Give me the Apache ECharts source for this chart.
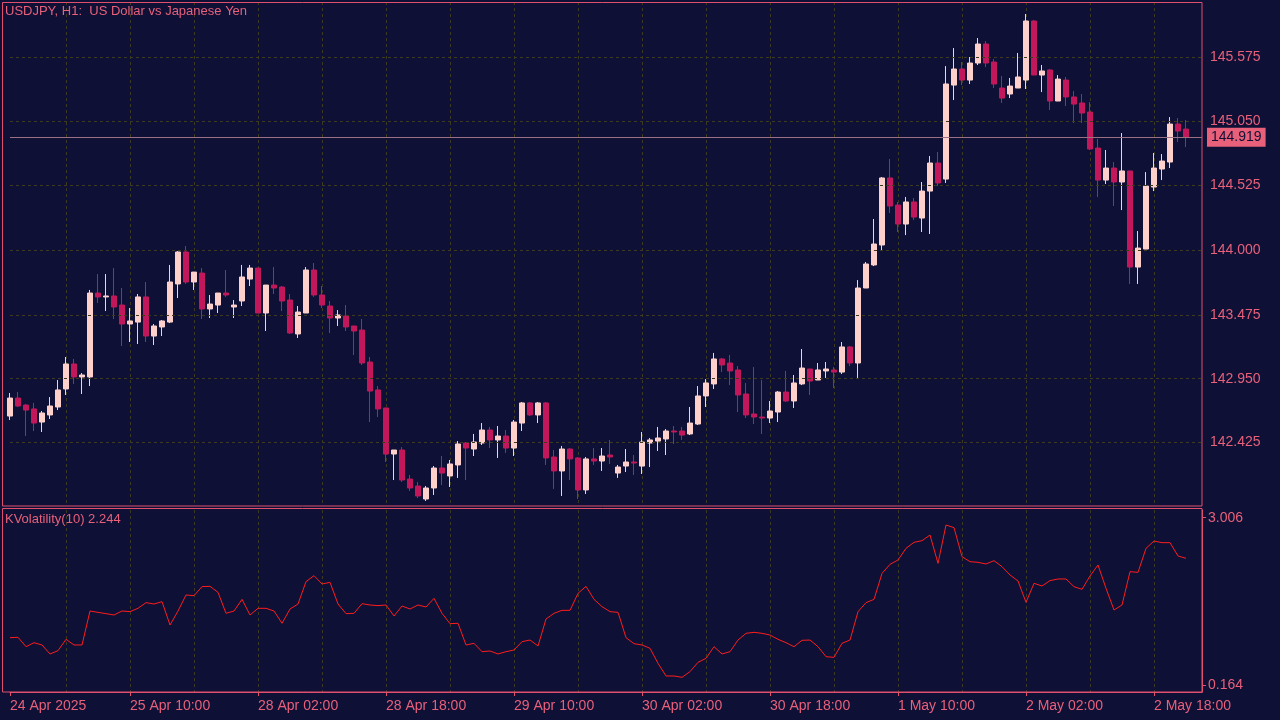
<!DOCTYPE html>
<html><head><meta charset="utf-8">
<script src="https://cdn.jsdelivr.net/npm/echarts@6/dist/echarts.min.js"></script>
<style>html,body{margin:0;padding:0;background:#0e1036;}#c{width:1280px;height:720px;}</style>
</head><body><div id="c"></div>
<script>
const tickLabels = ["24 Apr 2025","25 Apr 10:00","28 Apr 02:00","28 Apr 18:00","29 Apr 10:00","30 Apr 02:00","30 Apr 18:00","1 May 10:00","2 May 02:00","2 May 18:00"];
const priceLevels = [142.425,142.950,143.475,144.000,144.525,145.050,145.575];
const lastPrice = 144.919;
const volTicks = [0.164, 3.006];
const opens = [142.645,142.792,142.735,142.703,142.596,142.654,142.719,142.866,143.070,142.964,
142.964,143.649,143.617,143.625,143.551,143.396,143.412,143.617,143.298,143.372,
143.412,143.723,143.984,143.739,143.812,143.519,143.551,143.649,143.535,143.584,
143.763,143.853,143.486,143.714,143.698,143.592,143.315,143.486,143.837,143.633,
143.543,143.445,143.461,143.380,143.347,143.086,142.858,142.711,142.335,142.368,
142.131,142.074,141.968,142.058,142.221,142.156,142.246,142.425,142.376,142.425,
142.531,142.450,142.482,142.384,142.588,142.752,142.654,142.752,142.311,142.197,
142.376,142.303,142.042,142.295,142.278,142.327,142.180,142.237,142.270,142.237,
142.425,142.441,142.458,142.523,142.523,142.499,142.580,142.809,142.907,143.111,
143.078,143.021,142.825,142.662,142.637,142.629,142.678,142.841,142.768,142.907,
143.029,142.939,143.013,143.021,143.004,143.209,143.078,143.690,143.878,144.041,
144.588,144.367,144.212,144.392,144.261,144.481,144.710,144.579,145.346,145.477,
145.387,145.526,145.681,145.534,145.322,145.273,145.322,145.387,145.869,145.428,
145.469,145.216,145.387,145.249,145.200,145.126,144.832,144.571,144.669,144.555,
144.645,143.861,144.008,144.514,144.661,144.718,145.028,144.987];
const closes = [142.792,142.727,142.694,142.588,142.670,142.727,142.858,143.070,142.964,142.980,
143.649,143.617,143.625,143.535,143.396,143.421,143.617,143.298,143.380,143.421,
143.739,143.984,143.739,143.820,143.519,143.559,143.649,143.633,143.551,143.780,
143.853,143.486,143.714,143.690,143.584,143.323,143.494,143.837,143.633,143.551,
143.445,143.470,143.372,143.339,143.078,142.849,142.703,142.335,142.368,142.123,
142.058,141.993,142.058,142.221,142.180,142.254,142.417,142.384,142.433,142.531,
142.450,142.482,142.384,142.596,142.752,142.654,142.752,142.303,142.197,142.376,
142.295,142.042,142.295,142.278,142.319,142.311,142.229,142.270,142.262,142.433,
142.450,142.466,142.523,142.515,142.490,142.588,142.809,142.915,143.111,143.062,
143.013,142.817,142.654,142.637,142.629,142.686,142.841,142.768,142.915,143.037,
142.931,143.021,143.029,143.004,143.209,143.078,143.690,143.886,144.049,144.588,
144.359,144.212,144.392,144.269,144.481,144.710,144.547,145.355,145.477,145.387,
145.526,145.681,145.526,145.355,145.240,145.338,145.412,145.869,145.428,145.461,
145.216,145.395,145.249,145.191,145.118,144.824,144.571,144.669,144.555,144.645,
143.861,144.016,144.522,144.669,144.726,145.028,144.971,144.919];
const lows = [142.613,142.719,142.482,142.523,142.515,142.621,142.694,142.817,142.907,142.825,
142.890,143.568,143.502,143.437,143.217,143.249,143.233,143.249,143.225,143.298,
143.404,143.608,143.723,143.674,143.437,143.445,143.486,143.617,143.445,143.543,
143.706,143.486,143.339,143.641,143.502,143.315,143.282,143.486,143.617,143.527,
143.323,143.380,143.339,143.143,143.062,142.596,142.637,142.270,142.123,142.107,
142.034,141.976,141.952,142.001,142.082,142.066,142.140,142.123,142.319,142.409,
142.384,142.303,142.344,142.319,142.523,142.645,142.588,142.246,142.050,141.993,
142.123,141.968,142.009,142.246,142.197,142.254,142.140,142.188,142.164,142.172,
142.229,142.360,142.327,142.417,142.450,142.490,142.572,142.719,142.866,143.004,
142.898,142.678,142.629,142.580,142.499,142.588,142.596,142.760,142.711,142.898,
142.817,142.939,142.956,142.874,142.988,143.053,142.956,143.690,143.869,144.000,
144.302,144.147,144.122,144.245,144.147,144.131,144.522,144.547,145.224,145.346,
145.355,145.510,145.493,145.322,145.200,145.240,145.322,145.314,145.428,145.289,
145.142,145.216,145.175,145.036,145.036,144.816,144.433,144.539,144.359,144.326,
143.723,143.723,144.008,144.481,144.571,144.669,144.881,144.840];
const highs = [142.833,142.841,142.743,142.752,142.686,142.800,142.939,143.127,143.111,142.996,
143.674,143.804,143.804,143.853,143.690,143.527,143.641,143.739,143.396,143.429,
143.878,143.992,144.033,143.820,143.853,143.633,143.649,143.837,143.592,143.878,
143.878,143.853,143.714,143.861,143.706,143.641,143.543,143.861,143.894,143.706,
143.584,143.510,143.551,143.380,143.437,143.127,142.890,142.711,142.368,142.392,
142.164,142.107,142.074,142.237,142.319,142.286,142.441,142.433,142.499,142.588,
142.556,142.564,142.531,142.613,142.760,142.760,142.760,142.760,142.368,142.401,
142.384,142.311,142.311,142.384,142.384,142.450,142.246,142.376,142.327,142.515,
142.466,142.556,142.539,142.564,142.556,142.719,142.890,142.947,143.160,143.119,
143.143,143.053,142.915,143.045,142.939,142.768,142.849,143.013,142.980,143.192,
143.029,143.078,143.086,143.045,143.249,143.217,143.755,143.902,144.253,144.596,
144.743,144.392,144.433,144.424,144.555,144.767,144.800,145.501,145.648,145.534,
145.575,145.730,145.705,145.559,145.420,145.404,145.608,145.926,145.877,145.510,
145.477,145.428,145.412,145.297,145.273,145.208,144.906,144.816,144.718,144.955,
144.645,144.155,144.636,144.792,144.783,145.085,145.077,145.061];
const volatility = [0.968,0.974,0.815,0.883,0.844,0.691,0.747,0.940,0.844,0.844,
1.421,1.398,1.376,1.353,1.421,1.410,1.467,1.563,1.540,1.580,
1.183,1.421,1.693,1.682,1.835,1.840,1.738,1.382,1.421,1.619,
1.353,1.467,1.467,1.421,1.212,1.455,1.540,1.920,2.022,1.880,
1.908,1.540,1.376,1.382,1.546,1.523,1.512,1.523,1.336,1.506,
1.455,1.523,1.489,1.636,1.382,1.206,1.212,0.844,0.872,0.730,
0.742,0.691,0.730,0.759,0.900,0.928,0.827,1.285,1.382,1.432,
1.432,1.721,1.840,1.619,1.495,1.410,1.398,0.968,0.866,0.844,
0.787,0.532,0.317,0.317,0.294,0.391,0.549,0.617,0.815,0.691,
0.730,0.928,1.042,1.059,1.042,1.013,0.940,0.883,0.815,0.923,
0.928,0.815,0.645,0.634,0.872,0.928,1.410,1.563,1.619,2.061,
2.214,2.288,2.486,2.588,2.616,2.712,2.231,2.882,2.837,2.344,
2.259,2.248,2.220,2.276,2.174,2.033,1.931,1.568,1.891,1.846,
1.937,1.965,1.965,1.835,1.789,2.016,2.203,1.806,1.438,1.523,
2.089,2.078,2.486,2.610,2.582,2.582,2.356,2.316];

const N = opens.length + 2;
const cats = Array.from({length:N},(_,i)=>String(i));
const labelAt = {};
tickLabels.forEach((t,k)=>{ labelAt[k===0?0:16*k-1] = t; });
const candles = opens.map((o,i)=>[o,closes[i],lows[i],highs[i]]);
const PINK = '#e8607a', GRIDC = '#3d3a20', BORDER = '#e0506e';
const FONT = 'Liberation Sans';

const chart = echarts.init(document.getElementById('c'));
const xBase = (gi, showLabels) => ({
  type:'category', gridIndex:gi, data:cats, boundaryGap:false,
  axisLine:{show:showLabels, lineStyle:{color:BORDER}},
  axisTick:{show:showLabels, length:4, interval:(i)=>labelAt[i]!==undefined, lineStyle:{color:BORDER}},
  axisLabel:{show:showLabels, interval:(i)=>labelAt[i]!==undefined, formatter:(v,i)=>labelAt[i]||'',
    color:PINK, fontFamily:FONT, fontSize:14, align:'left', margin:7},
  splitLine:{show:true, interval:(i)=>i%8===7, lineStyle:{color:GRIDC, type:[3,3]}}
});
chart.setOption({
  backgroundColor:'#0e1036',
  animation:false,
  grid:[{left:10, top:2, width:1192, height:504},{left:10, top:510, width:1192, height:182}],
  xAxis:[xBase(0,false), xBase(1,true)],
  yAxis:[
    {type:'value', gridIndex:0, min:141.911, max:146.024, show:false, splitLine:{show:false}},
    {type:'value', gridIndex:1, min:0.045, max:3.137, position:'right',
     axisLine:{show:true, lineStyle:{color:BORDER}}, splitLine:{show:false},
     axisTick:{show:true, customValues:volTicks, length:4, lineStyle:{color:BORDER}},
     axisLabel:{customValues:volTicks, formatter:(v)=>v.toFixed(3), color:PINK, fontFamily:FONT, fontSize:14, margin:6}}
  ],
  graphic:[
    {type:'rect', shape:{x:2.5,y:2.5,width:1199.5,height:503.5}, style:{fill:'none', stroke:BORDER, lineWidth:1}, silent:true, z:10},
    {type:'rect', shape:{x:2.5,y:508.5,width:1199.5,height:183.5}, style:{fill:'none', stroke:BORDER, lineWidth:1}, silent:true, z:10},
    {type:'text', left:5, top:5, style:{text:'USDJPY, H1:  US Dollar vs Japanese Yen', fill:PINK, font:'13px '+FONT}, z:11},
    {type:'text', left:5, top:513, style:{text:'KVolatility(10) 2.244', fill:PINK, font:'13px '+FONT}, z:11}
  ],
  series:[
    {type:'candlestick', xAxisIndex:0, yAxisIndex:0, data:candles, barWidth:5, clip:false,
     itemStyle:{color:'#fdd0cb', color0:'#c2185b', borderColor:'#fdd0cb', borderColor0:'#c2185b', borderWidth:1},
     markLine:{silent:true, symbol:'none', animation:false,
       data:[
         ...priceLevels.map(v=>({yAxis:v, lineStyle:{color:GRIDC, type:[3,3], width:1},
           label:{show:true, position:'end', distance:8, formatter:v.toFixed(3), color:PINK, fontFamily:FONT, fontSize:14}})),
         {yAxis:lastPrice, lineStyle:{color:'#9a7082', type:'solid', width:1},
          label:{show:true, position:'end', distance:5, formatter:lastPrice.toFixed(3), color:'#0e1036',
            backgroundColor:'#e8607a', padding:[3,4,2,4], fontFamily:FONT, fontSize:14}}
       ]}
    },
    {type:'line', xAxisIndex:1, yAxisIndex:1, data:volatility, symbol:'none', showSymbol:false,
     lineStyle:{color:'#ff1c1c', width:1}}
  ]
});
</script></body></html>
